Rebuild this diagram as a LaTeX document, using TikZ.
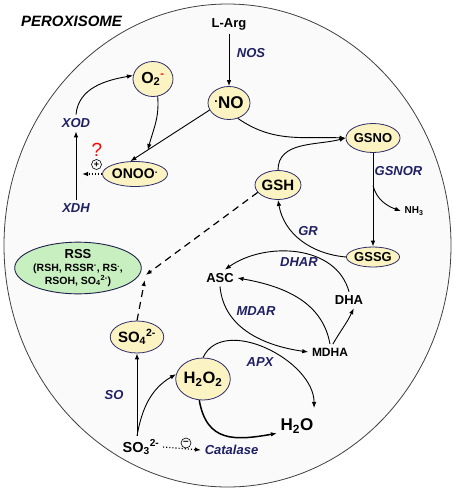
\documentclass[tikz,border=0pt]{standalone}
\usepackage{fontspec}
\setmainfont{Liberation Sans}
\usetikzlibrary{positioning, arrows.meta, calc, shapes.geometric}
\definecolor{cream}{HTML}{FBF3C2}
\definecolor{rim}{HTML}{2E2D6B}
\definecolor{enzblue}{HTML}{1F2063}
\definecolor{leaf}{HTML}{C8EFC0}
\definecolor{cellbg}{HTML}{FAFAFA}
\newcommand{\fsz}[1]{\fontsize{#1}{#1}\selectfont}

\begin{document}
\begin{tikzpicture}[x=1pt, y=1pt, line width=0.9pt, >={Latex[length=6pt, width=4.5pt]},
    main/.style = {draw=rim, fill=cream, ellipse, inner sep=0pt, line width=0.8pt, font=\bfseries\fsz{13}},
    enz/.style = {font=\bfseries\itshape\fsz{13}, text=enzblue},
    lbl/.style = {font=\bfseries\fsz{13}},
    sign/.style = {draw, circle, inner sep=0pt, minimum size=10pt, line width=0.6pt, font=\bfseries\fsz{9}},
    dash line/.style = {line width=1.2pt, dash pattern=on 7pt off 5pt}]
    \useasboundingbox (0,0) rectangle (454,-491);
    \draw[draw=black!75, fill=cellbg, line width=0.8pt] (227.5,-245.5) ellipse [x radius=223.5, y radius=241.5];

    % nodes
    \node[font=\bfseries\itshape\fsz{15}] (title) at (71.5,-21) {PEROXISOME};
    \node[lbl] (larg) at (229,-24) {L-Arg};
    \node[enz] (nos) at (251,-53) {NOS};
    \node[main, minimum width=42pt, minimum height=33pt, font=\bfseries\fsz{17}] (no) at (229,-103) {\textsuperscript{.}NO};
    \node[main, minimum width=40pt, minimum height=35pt, font=\bfseries\fsz{16}] (o2) at (153,-79) {O\textsubscript{2}\textsuperscript{\color{red}-}};
    \node[main, minimum width=56pt, minimum height=25pt, font=\bfseries\fsz{14}] (onoo) at (135,-174) {ONOO\textsuperscript{.}};
    \node[enz] (xod) at (76,-123) {XOD};
    \node[enz] (xdh) at (76,-208) {XDH};
    \node[text=red, font=\fsz{19}] (q) at (97,-150) {?};
    \node[sign] (plus) at (96.5,-164.5) {+};
    \coordinate (xin) at (82,-174);
    \node[main, minimum width=53pt, minimum height=29pt] (gsno) at (373,-138) {GSNO};
    \node[enz] (gsnor) at (398.5,-171) {GSNOR};
    \node[font=\bfseries\fsz{10}] (nh3) at (414,-211) {NH\textsubscript{3}};
    \node[main, minimum width=46pt, minimum height=29pt, font=\bfseries\fsz{15}] (gsh) at (278,-185) {GSH};
    \node[main, minimum width=52pt, minimum height=20pt] (gssg) at (373,-257) {GSSG};
    \node[enz] (gr) at (308,-231) {GR};
    \node[enz] (dhar) at (299,-262) {DHAR};
    \node[lbl] (asc) at (220,-278) {ASC};
    \node[lbl] (dha) at (349,-300) {DHA};
    \node[enz] (mdar) at (256,-311) {MDAR};
    \node[font=\bfseries\fsz{12}] (mdha) at (330,-352) {MDHA};
    \node[enz] (apx) at (260,-362) {APX};
    \node[font=\bfseries\fsz{17}] (h2o) at (297,-426) {H\textsubscript{2}O};
    \node[main, minimum width=54pt, minimum height=42pt, font=\bfseries\fsz{16.5}] (h2o2) at (203,-379) {H\textsubscript{2}O\textsubscript{2}};
    \node[main, minimum width=44pt, minimum height=32pt, font=\bfseries\fsz{15}] (so4) at (137,-337) {SO\textsubscript{4}\textsuperscript{2-}};
    \node[font=\bfseries\fsz{14.5}] (so3) at (141,-447) {SO\textsubscript{3}\textsuperscript{2-}};
    \node[enz] (so) at (114,-395) {SO};
    \node[enz] (catalase) at (231.5,-450) {Catalase};
    \node[sign, font=\bfseries\fsz{10}] (minus) at (186,-443) {–};
    \node[draw=rim!70!black, fill=leaf, ellipse, minimum width=113pt, minimum height=47pt, inner sep=0pt,
          align=center, font=\bfseries\fontsize{10.5}{11}\selectfont] (rss) at (78,-268)
          {{\fsz{13}RSS}\\[2pt](RSH, RSSR\textsuperscript{-}, RS\textsuperscript{.},\\RSOH, SO\textsubscript{4}\textsuperscript{2-})};

    \coordinate (nomid) at ($(no.200)!0.78!(onoo.110)$);
    \coordinate (br) at ($(gsno.south)!0.35!(gssg.north)$);
    \coordinate (h2otop) at ($(h2o.north east)+(-3,7)$);
    \coordinate (so3top) at (so3.north -| so4.south);
    \coordinate (rssa) at ($(rss.east)+(3,-12)$);
    \coordinate (rssb) at ($(rss.east)+(4,-7)$);

    % connectors
    \draw[->] (larg) -- (no);
    \draw[->] (no.200) -- (onoo.110);
    \draw[->] (o2.-75) to[out=-85, in=75] (nomid);
    \draw[->] (xod.north) to[out=85, in=190] (o2.170);
    \draw[->] (xdh) -- (xod);
    \draw[->, dotted, line width=1.1pt] (onoo.west) -- (xin);
    \draw[->] (no.-60) to[out=-35, in=178] (gsno.west);
    \draw[->] (gsh.north) to[out=90, in=195] (gsno.west);
    \draw[->] (gsno) -- (gssg);
    \draw[->] (br) to[out=-75, in=160] (nh3.west);
    \draw[->] (gssg.west) to[out=175, in=-80] (gsh.south);
    \draw[->] (dha.north) to[out=105, in=35] (asc.60);
    \draw[->] (mdha.north) to[out=100, in=-10] (asc.east);
    \draw[->] (asc.south) to[out=-85, in=172] (mdha.west);
    \draw[->] (mdha.70) to[out=60, in=-115] (dha.-60);
    \draw[->] (h2o2.north) to[out=65, in=90] (h2otop);
    \draw[->, line width=1.5pt] (h2o2.-100) to[out=-80, in=190, looseness=1.3] (h2o.200);
    \draw[->] (so3top) -- (so4.south);
    \draw[->] (so3top) to[out=80, in=210] (h2o2.170);
    \draw[->, dash line] (so4.north) -- (rssa);
    \draw[->, dash line] (gsh.200) -- (rssb);
    \draw[->, dotted, line width=1.1pt] (so3.east) -- (catalase.west);
\end{tikzpicture}
\end{document}
